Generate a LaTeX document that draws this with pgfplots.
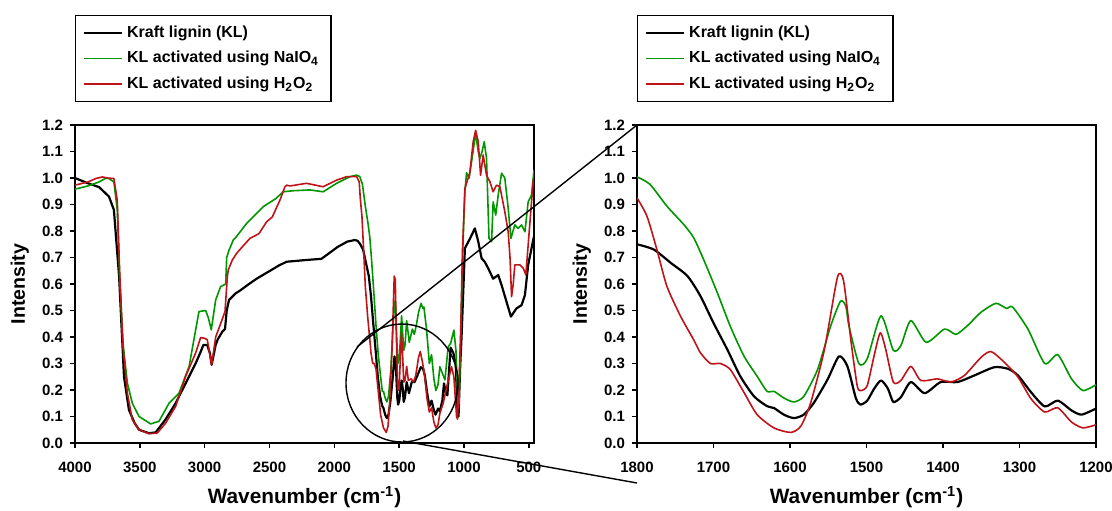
\documentclass[border=0pt]{standalone}
\usepackage{fontspec}
\setmainfont{Liberation Sans}
\usepackage{pgfplots}
\usepackage{pgfplotstable}
\pgfplotsset{compat=1.18}
\definecolor{kgreen}{RGB}{0,150,0}
\definecolor{kred}{RGB}{190,20,25}

% ---------- full spectrum ----------
\pgfplotstableread{
wn I
4000 1.000
3900 0.980
3815 0.966
3738 0.930
3700 0.880
3660 0.630
3622 0.250
3584 0.125
3540 0.075
3506 0.050
3430 0.037
3378 0.040
3300 0.090
3224 0.150
3147 0.225
3070 0.300
3030 0.345
3010 0.370
2980 0.370
2960 0.340
2946 0.295
2915 0.370
2900 0.390
2864 0.420
2843 0.430
2830 0.500
2812 0.540
2760 0.565
2728 0.575
2658 0.600
2599 0.620
2530 0.640
2427 0.670
2368 0.684
2231 0.690
2100 0.695
2077 0.703
1974 0.740
1900 0.760
1841 0.766
1820 0.763
1800 0.750
1778 0.730
1756 0.680
1734 0.630
1717 0.554
1700 0.453
1682 0.353
1665 0.252
1647 0.176
1630 0.139
1621 0.132
1608 0.107
1595 0.094
1582 0.107
1569 0.151
1551 0.239
1536 0.327
1525 0.290
1514 0.170
1508 0.145
1499 0.160
1490 0.205
1481 0.236
1472 0.205
1465 0.155
1455 0.173
1442 0.230
1424 0.188
1403 0.230
1381 0.230
1359 0.255
1333 0.286
1315 0.280
1302 0.255
1285 0.192
1267 0.138
1250 0.160
1232 0.123
1219 0.107
1200 0.130
1186 0.120
1167 0.160
1154 0.225
1140 0.190
1128 0.180
1103 0.360
1082 0.340
1064 0.300
1050 0.120
1042 0.100
1030 0.280
1018 0.410
993 0.735
955 0.770
916 0.810
890 0.760
864 0.697
839 0.683
813 0.659
775 0.620
736 0.634
710 0.596
672 0.533
638 0.477
595 0.508
556 0.520
530 0.558
505 0.672
471 0.754
460 0.780
}\tblKL

\pgfplotstableread{
wn I
4000 0.958
3900 0.970
3815 0.985
3760 1.000
3738 0.998
3700 0.985
3674 0.880
3656 0.630
3630 0.377
3596 0.226
3558 0.150
3506 0.100
3416 0.072
3352 0.082
3275 0.150
3198 0.188
3120 0.289
3044 0.496
2992 0.500
2970 0.470
2949 0.427
2915 0.540
2877 0.590
2838 0.600
2830 0.700
2812 0.728
2779 0.766
2761 0.775
2676 0.829
2548 0.892
2452 0.922
2394 0.948
2317 0.952
2188 0.955
2086 0.948
1982 0.980
1880 1.005
1828 1.011
1803 1.005
1783 0.976
1761 0.894
1739 0.825
1726 0.775
1713 0.693
1695 0.567
1678 0.440
1660 0.327
1643 0.252
1630 0.195
1621 0.195
1608 0.170
1595 0.155
1582 0.176
1564 0.277
1547 0.440
1534 0.535
1527 0.516
1523 0.443
1510 0.300
1499 0.318
1481 0.480
1465 0.350
1455 0.368
1442 0.462
1422 0.380
1398 0.430
1383 0.410
1368 0.443
1350 0.494
1331 0.527
1317 0.508
1309 0.513
1289 0.430
1267 0.300
1250 0.333
1232 0.242
1217 0.198
1200 0.220
1186 0.288
1147 0.238
1122 0.363
1103 0.376
1078 0.426
1062 0.350
1045 0.130
1038 0.150
1025 0.400
1010 0.720
993 0.950
980 1.020
960 1.000
930 1.100
910 1.170
890 1.100
877 1.074
860 1.100
844 1.137
826 1.074
807 0.772
787 0.760
775 0.910
755 0.860
736 0.936
710 1.018
685 1.000
659 0.886
638 0.772
608 0.823
582 0.810
556 0.823
530 0.797
505 0.910
479 0.936
460 1.030
}\tblNA

\pgfplotstableread{
wn I
4000 0.973
3900 0.985
3840 0.998
3789 1.004
3750 1.000
3700 0.998
3674 0.916
3656 0.653
3630 0.364
3596 0.188
3558 0.088
3506 0.050
3429 0.035
3365 0.038
3301 0.075
3224 0.138
3147 0.251
3070 0.339
3031 0.398
3000 0.395
2980 0.390
2946 0.295
2915 0.400
2877 0.450
2843 0.496
2825 0.628
2818 0.653
2787 0.690
2753 0.716
2710 0.740
2651 0.772
2581 0.790
2522 0.835
2478 0.853
2419 0.917
2381 0.967
2368 0.973
2342 0.970
2214 0.980
2086 0.967
1982 0.992
1905 1.005
1828 1.005
1808 0.986
1800 0.925
1787 0.856
1774 0.730
1761 0.592
1743 0.478
1726 0.390
1717 0.340
1704 0.300
1691 0.300
1678 0.277
1660 0.190
1643 0.107
1621 0.057
1599 0.040
1586 0.063
1573 0.151
1555 0.353
1538 0.630
1530 0.617
1520 0.378
1512 0.214
1507 0.198
1499 0.217
1490 0.330
1482 0.416
1475 0.355
1465 0.230
1455 0.236
1442 0.289
1429 0.236
1407 0.242
1390 0.230
1372 0.255
1350 0.324
1337 0.345
1320 0.305
1302 0.249
1285 0.167
1267 0.117
1250 0.133
1232 0.079
1217 0.057
1200 0.069
1186 0.112
1160 0.150
1134 0.210
1096 0.288
1078 0.250
1057 0.100
1050 0.090
1040 0.200
1026 0.410
1011 0.735
993 0.960
955 1.020
929 1.137
910 1.180
890 1.137
872 1.010
852 1.087
826 1.010
800 0.986
775 0.948
749 0.973
723 0.967
685 0.873
659 0.797
645 0.700
633 0.552
620 0.600
608 0.672
569 0.672
543 0.660
523 0.634
497 0.797
466 0.990
460 1.000
}\tblHP

% ---------- zoom 1800-1200 ----------
\pgfplotstableread{
wn I
1800 0.750
1778 0.730
1756 0.680
1734 0.630
1717 0.554
1700 0.453
1682 0.353
1665 0.252
1647 0.176
1630 0.139
1621 0.132
1608 0.107
1595 0.094
1582 0.107
1569 0.151
1551 0.239
1536 0.327
1525 0.290
1514 0.170
1508 0.145
1499 0.160
1490 0.205
1481 0.236
1472 0.205
1465 0.155
1455 0.173
1442 0.230
1424 0.188
1403 0.230
1381 0.230
1359 0.255
1333 0.286
1315 0.280
1302 0.255
1285 0.192
1267 0.138
1250 0.160
1232 0.123
1219 0.107
1200 0.130
}\zKL

\pgfplotstableread{
wn I
1800 1.004
1783 0.976
1761 0.894
1739 0.825
1726 0.775
1713 0.693
1695 0.567
1678 0.440
1660 0.327
1643 0.252
1630 0.195
1621 0.195
1608 0.170
1595 0.155
1582 0.176
1564 0.277
1547 0.440
1534 0.535
1527 0.516
1523 0.443
1510 0.300
1499 0.318
1481 0.480
1465 0.350
1455 0.368
1442 0.462
1422 0.380
1398 0.430
1383 0.410
1368 0.443
1350 0.494
1331 0.527
1317 0.508
1309 0.513
1289 0.430
1267 0.300
1250 0.333
1232 0.242
1217 0.198
1200 0.220
}\zNA

\pgfplotstableread{
wn I
1800 0.925
1787 0.856
1774 0.730
1761 0.592
1743 0.478
1726 0.390
1717 0.340
1704 0.300
1691 0.300
1678 0.277
1660 0.190
1643 0.107
1621 0.057
1599 0.040
1586 0.063
1573 0.151
1555 0.353
1538 0.625
1530 0.612
1520 0.378
1512 0.214
1507 0.198
1499 0.217
1490 0.330
1482 0.416
1475 0.355
1465 0.230
1455 0.236
1442 0.289
1429 0.236
1407 0.242
1390 0.230
1372 0.255
1350 0.324
1337 0.345
1320 0.305
1302 0.249
1285 0.167
1267 0.117
1250 0.133
1232 0.079
1217 0.057
1200 0.069
}\zHP

\pgfplotsset{
  spec/.style={
    scale only axis, width=229.5pt, height=159pt,
    x dir=reverse, ymin=0, ymax=1.2,
    ytick={0,0.1,0.2,0.3,0.4,0.5,0.6,0.7,0.8,0.9,1.0,1.1,1.2},
    yticklabel style={/pgf/number format/.cd, fixed, fixed zerofill, precision=1},
    xticklabel style={/pgf/number format/1000 sep={}, yshift=-3.5pt},
    tick label style={font=\bfseries\fontsize{7.5}{9}\selectfont},
    /pgf/number format/assume math mode=true,
    tick align=outside, xtick pos=bottom, ytick pos=left,
    major tick length=2.5pt,
    tick style={black, line width=0.7pt},
    axis line style={line width=1pt},
    xlabel={Wavenumber (cm\textsuperscript{-1})},
    ylabel={Intensity},
    xlabel style={font=\bfseries\fontsize{10.4}{12}\selectfont, at={(axis description cs:0.5,-0.17)}, anchor=center},
    ylabel style={font=\bfseries\fontsize{9.8}{12}\selectfont, at={(axis description cs:-0.12,0.5)}, anchor=center},
    legend cell align=left,
    legend style={at={(axis description cs:0,1)}, anchor=south west, yshift=11.5pt,
      draw=black, line width=0.6pt, fill=white,
      font=\bfseries\fontsize{8}{9.5}\selectfont,
      row sep=1.5pt, inner xsep=4pt, inner ysep=3pt},
    legend image code/.code={\draw[#1, line width=0.8pt, sharp plot] (0pt,0pt) -- (19pt,0pt);},
  },
  kl/.style={black, line width=1.1pt, line join=round},
  na/.style={kgreen, line width=0.8pt, line join=round},
  hp/.style={kred, line width=0.8pt, line join=round},
}

\begin{document}
\begin{tikzpicture}
\useasboundingbox (-37.5pt,-33.5pt) rectangle (518.5pt,221.5pt);

\begin{axis}[spec, at={(0pt,0pt)}, anchor=south west, xmin=460, xmax=4000,
  xtick={500,1000,1500,2000,2500,3000,3500,4000}]
\addplot[kl] table[x=wn,y=I]{\tblKL};
\addlegendentry{Kraft lignin (KL)}
\addplot[na] table[x=wn,y=I]{\tblNA};
\addlegendentry{KL activated using NaIO\textsubscript{4}\hspace{3.5pt}}
\addplot[hp] table[x=wn,y=I]{\tblHP};
\addlegendentry{KL activated using H\textsubscript{2}O\textsubscript{2}}
\end{axis}

\begin{axis}[spec, at={(281pt,0pt)}, anchor=south west, xmin=1200, xmax=1800,
  xtick={1200,1300,1400,1500,1600,1700,1800}]
\addplot[kl, smooth, tension=0.4] table[x=wn,y=I]{\zKL};
\addlegendentry{Kraft lignin (KL)}
\addplot[na, smooth, tension=0.4] table[x=wn,y=I]{\zNA};
\addlegendentry{KL activated using NaIO\textsubscript{4}\hspace{3.5pt}}
\addplot[hp, smooth, tension=0.4] table[x=wn,y=I]{\zHP};
\addlegendentry{KL activated using H\textsubscript{2}O\textsubscript{2}}
\end{axis}

% zoom annotation
\draw[line width=0.7pt] (163.5pt,30pt) ellipse [x radius=28pt, y radius=29.5pt];
\draw[line width=0.7pt] (141pt,48pt) -- (281pt,159pt);
\draw[line width=0.7pt] (164pt,1pt) -- (281pt,-20pt);
\end{tikzpicture}
\end{document}
